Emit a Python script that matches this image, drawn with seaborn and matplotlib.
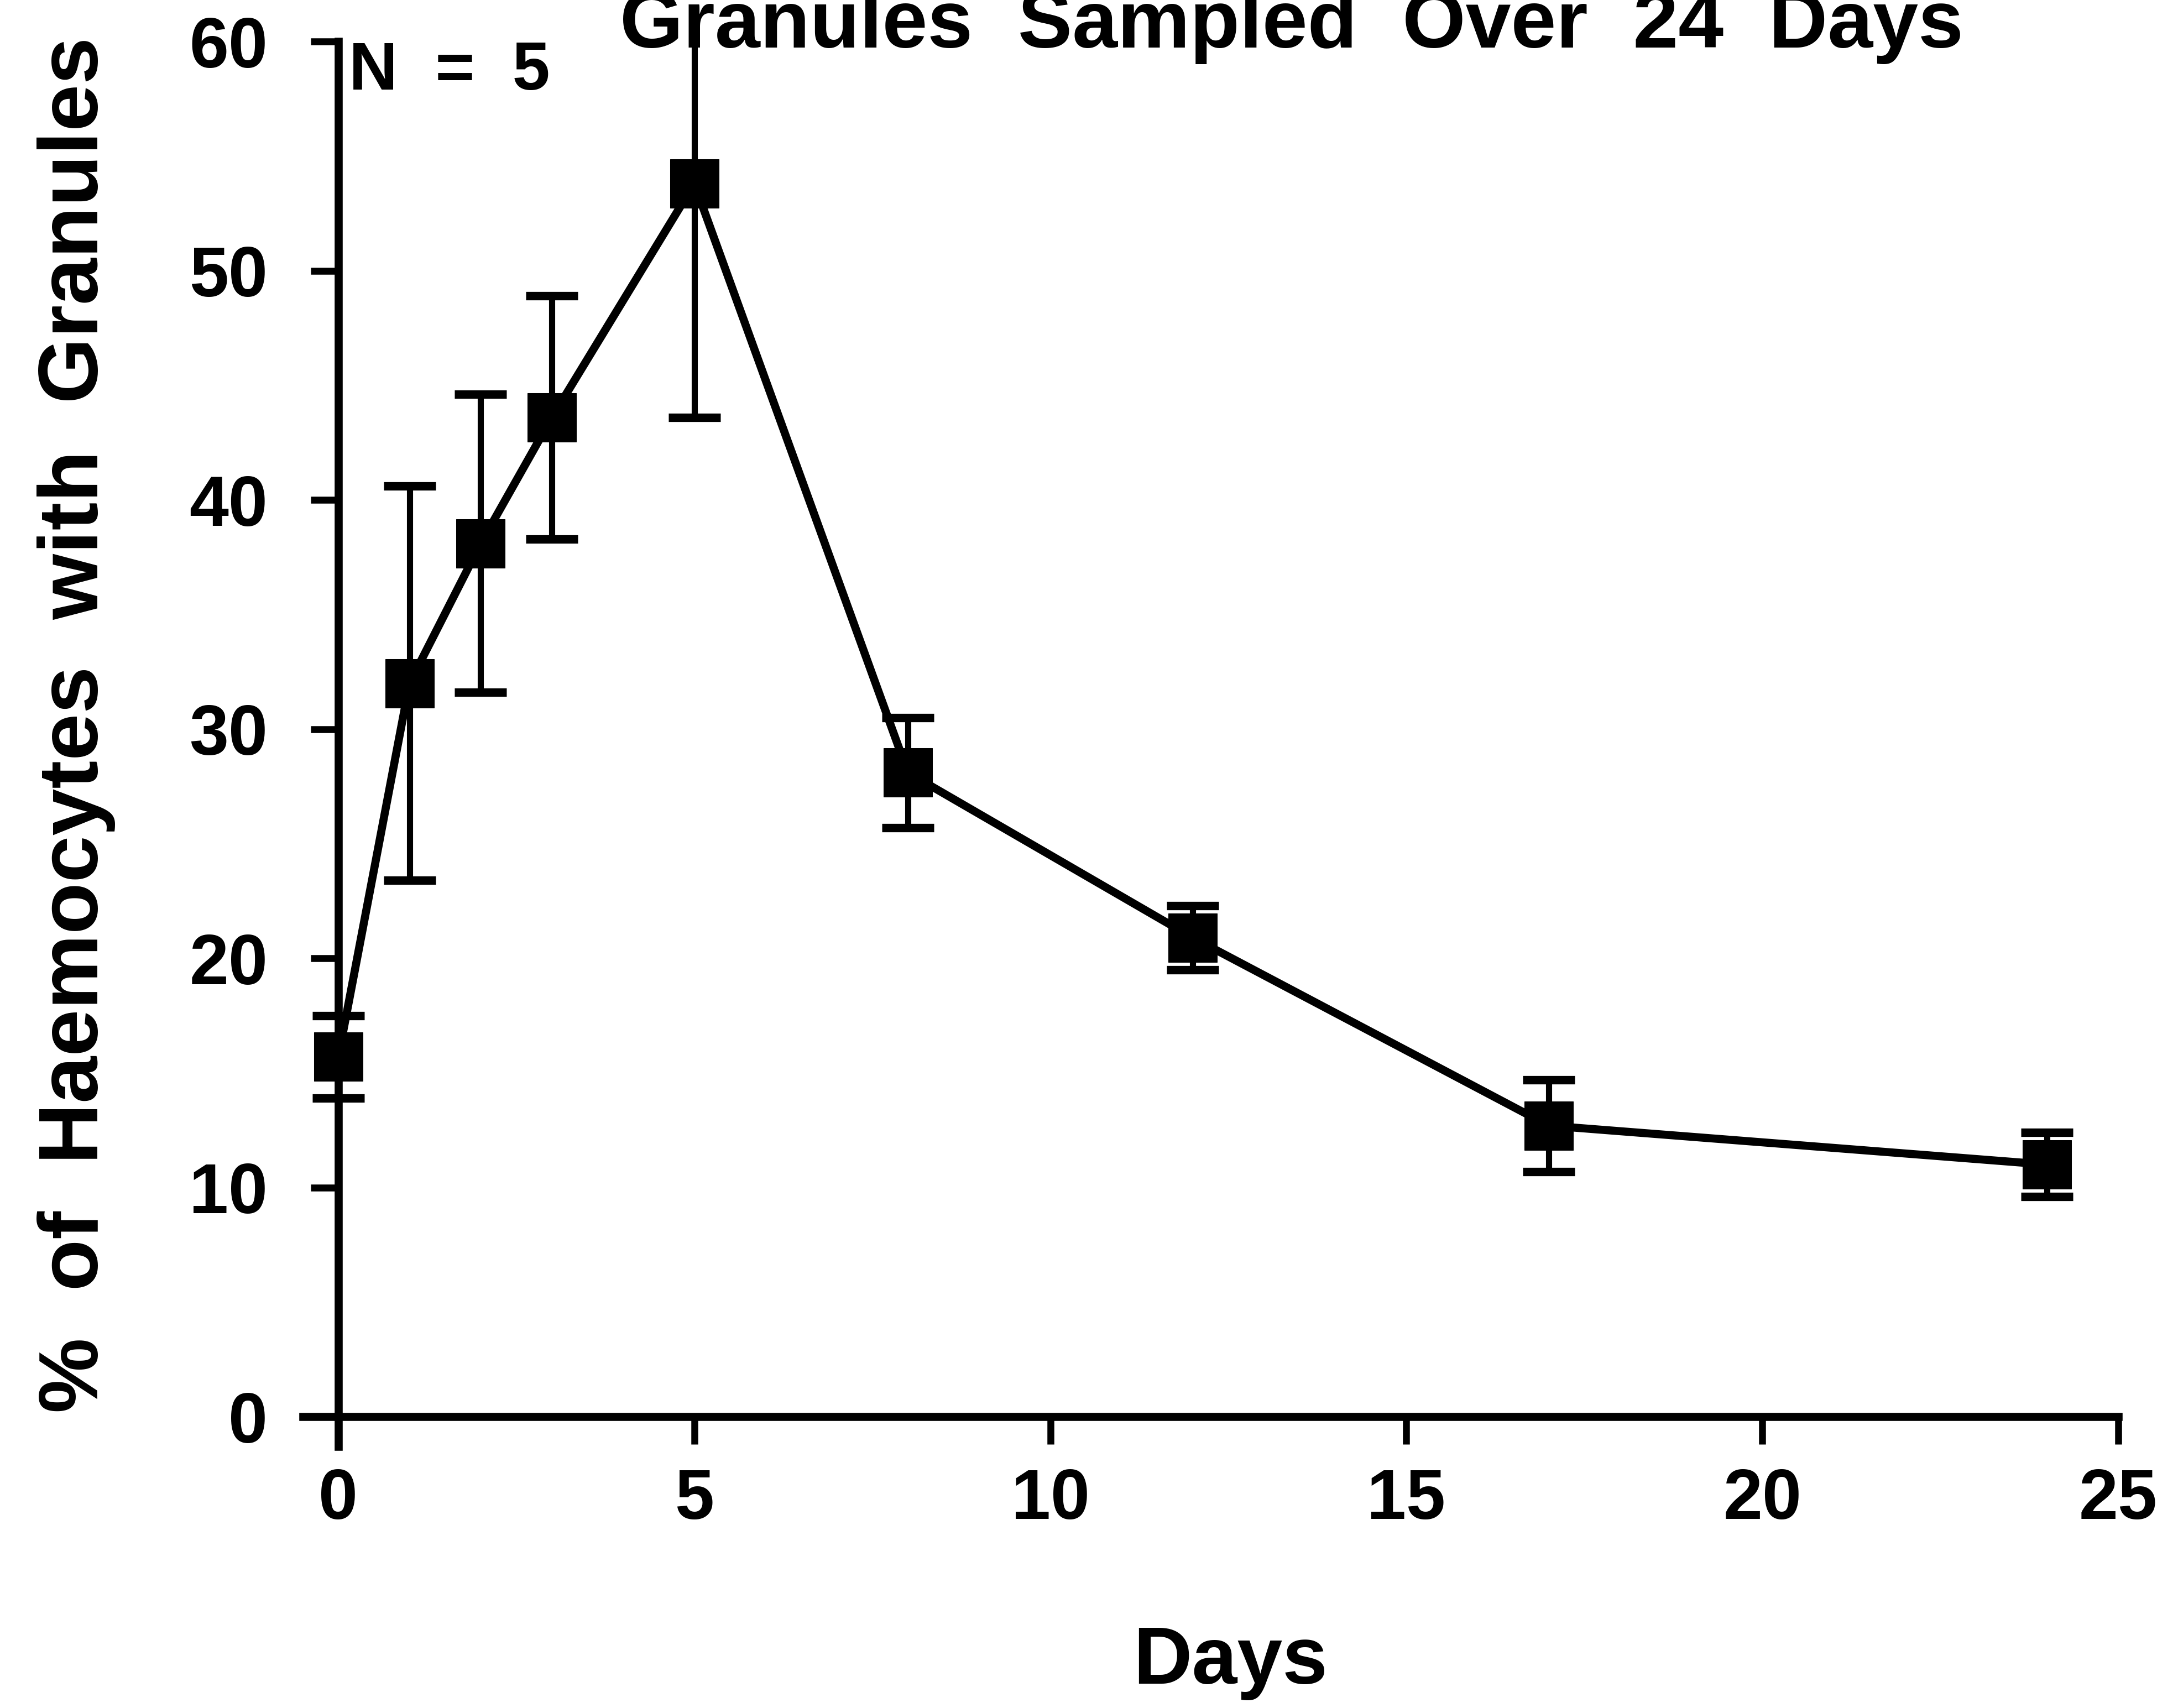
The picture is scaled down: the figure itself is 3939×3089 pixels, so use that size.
import matplotlib
matplotlib.use("Agg")
import matplotlib.pyplot as plt
import seaborn as sns
import pandas as pd

# ---- data ----
days = [0, 1, 2, 3, 5, 8, 12, 17, 24]
pct_granules = [15.7, 32.0, 38.1, 43.6, 53.8, 28.1, 20.9, 12.7, 11.0]
sem = [1.8, 8.6, 6.5, 5.3, 10.2, 2.4, 1.4, 2.0, 1.4]
x_ticks = [0, 5, 10, 15, 20, 25]
y_ticks = [0, 10, 20, 30, 40, 50, 60]
title_text = "Granules  Sampled  Over  24  Days"
xlabel_text = "Days"
ylabel_text = "%  of  Haemocytes  with  Granules"
n_text = "N  =  5"

df = pd.DataFrame({"Days": days, "Pct": pct_granules, "SEM": sem})

sns.set_theme(style="ticks")
plt.rcParams["font.family"] = ["Liberation Sans", "DejaVu Sans"]

fig = plt.figure(figsize=(39.39, 30.89), dpi=100)
ax = fig.add_axes([0.139, 0.1531, 0.9726 - 0.139, 0.9757 - 0.1531])

ax.errorbar(df["Days"], df["Pct"], yerr=df["SEM"], fmt="none",
            ecolor="black", elinewidth=8, capsize=34, capthick=11, zorder=2)
sns.lineplot(data=df, x="Days", y="Pct", ax=ax, color="black",
             linewidth=10.5, marker="s", markersize=64,
             markeredgecolor="black", markerfacecolor="black", zorder=3)

ax.set_xlim(-0.5, 25)
ax.set_ylim(-1.3, 60)
ax.set_xticks(x_ticks)
ax.set_yticks(y_ticks)
ax.set_xticklabels([str(t) for t in x_ticks])
ax.set_yticklabels([str(t) for t in y_ticks])

for s in ["top", "right"]:
    ax.spines[s].set_visible(False)
ax.spines["bottom"].set_position(("data", 0))
ax.spines["left"].set_position(("data", 0))
for s in ["bottom", "left"]:
    ax.spines[s].set_linewidth(10.5)
    ax.spines[s].set_color("black")

ax.tick_params(axis="both", direction="out", length=36, width=9,
               color="black", labelsize=92, labelcolor="black")
ax.tick_params(axis="x", pad=30)
ax.tick_params(axis="y", pad=56)
for lbl in ax.get_xticklabels() + ax.get_yticklabels():
    lbl.set_fontweight("bold")

ax.set_xlabel("")
ax.set_ylabel("")

ax.text(0.15, 57.9, n_text, fontsize=88, fontweight="bold",
        ha="left", va="baseline", color="black")

fig.text(0.593, 0.972, title_text, fontsize=106, fontweight="bold",
         ha="center", va="baseline", color="black")
fig.text(0.565, 0.0143, xlabel_text, fontsize=106, fontweight="bold",
         ha="center", va="baseline", color="black")
fig.text(0.035, 0.5755, ylabel_text, fontsize=110, fontweight="bold",
         rotation=90, ha="center", va="center", color="black")

fig.savefig("out.png", dpi=100, facecolor="white")
